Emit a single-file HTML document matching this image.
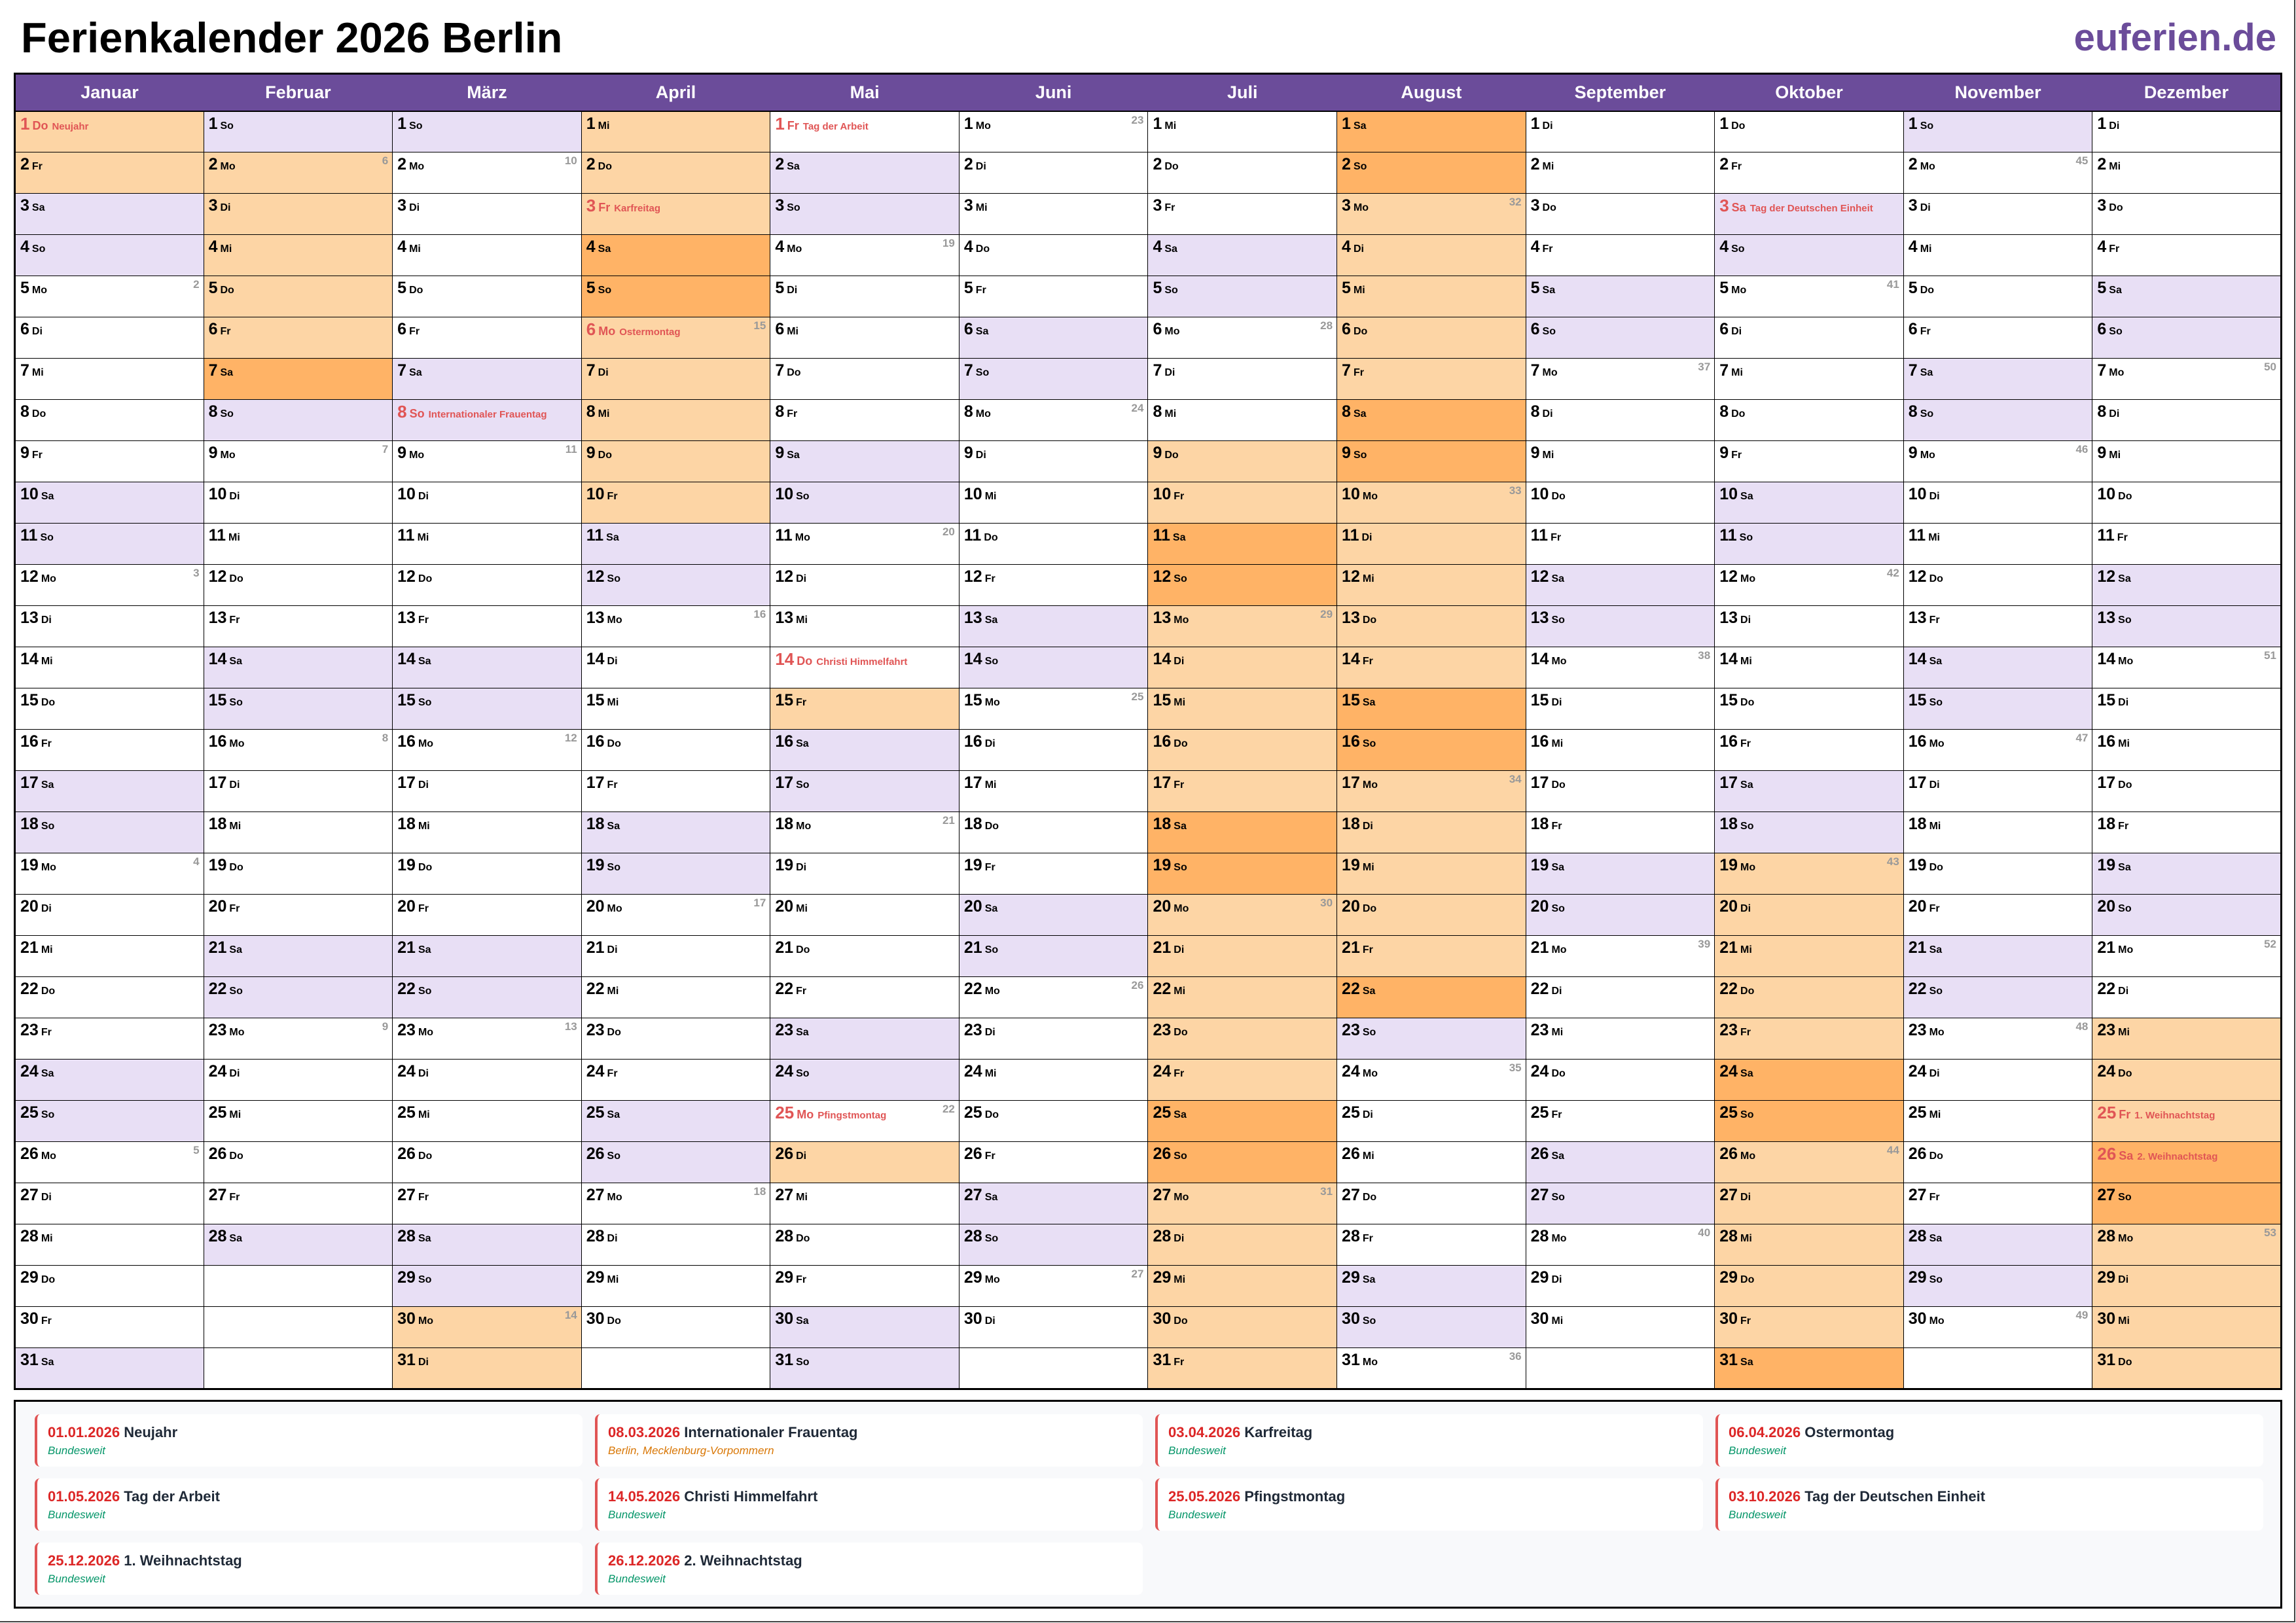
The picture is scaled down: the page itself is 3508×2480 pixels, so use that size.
<!DOCTYPE html>
<html><head><meta charset="utf-8">
<style>
*{margin:0;padding:0;box-sizing:border-box}
html,body{width:3508px;height:2480px;background:#fff;font-family:"Liberation Sans",Arial,sans-serif;overflow:hidden;position:relative}
.frame{position:absolute;left:0;top:0;width:3507px;height:2479px;border-right:2px solid #444;border-bottom:2px solid #444}
.title{position:absolute;left:32px;top:25px;font-size:65px;line-height:1;font-weight:bold;color:#000}
.logo{position:absolute;right:30px;top:29px;font-size:58px;line-height:1;font-weight:bold;color:#6b4c9a}
table{position:absolute;left:21px;top:111px;width:3466px;border-collapse:collapse;table-layout:fixed;border:3px solid #000}
th{height:57px;background:#6b4c9a;color:#fff;font-size:27px;font-weight:bold;border:none;border-bottom:2px solid #000;text-align:center;vertical-align:middle}
tr.r{height:63px}
td{border:1px solid #000;vertical-align:top;padding:4px 0 0 7px;line-height:28px;position:relative;white-space:nowrap;overflow:hidden;background:#fff}
td b{font-size:25px;color:#000}
td i{font-style:normal;font-weight:bold;font-size:16px;margin-left:4px;color:#000}
td u{position:absolute;top:2px;right:6px;color:#999;font-weight:bold;font-size:17px;text-decoration:none;line-height:22px}
td s{text-decoration:none;color:#e05555;font-weight:bold;font-size:15px;margin-left:6px}
td.h b{color:#e05555;font-size:26px}
td.h i{color:#e05555;font-size:18px}
.w{background:#e8dff5}
.o{background:#fdd5a5}
.d{background:#ffb366}
.leg{position:absolute;left:21px;top:2139px;width:3466px;height:319px;border:3px solid #000;background:#f8f9fb}
.c{position:absolute;width:837px;height:80px;background:#fff;border-left:4px solid #e05555;border-radius:8px;padding:15px 0 0 16px}
.c .l1{font-size:22px;line-height:26px;font-weight:bold;color:#1f2937}
.c .l1 em{font-style:normal;color:#dc2626}
.c .l2{font-size:17px;line-height:26px;font-style:italic;color:#059669;margin-top:2px}
.c .l2.or{color:#d97706}
</style></head><body>
<div class="frame"></div>
<div class="title">Ferienkalender 2026 Berlin</div>
<div class="logo">euferien.de</div>
<table>
<tr><th>Januar</th><th>Februar</th><th>März</th><th>April</th><th>Mai</th><th>Juni</th><th>Juli</th><th>August</th><th>September</th><th>Oktober</th><th>November</th><th>Dezember</th></tr>
<tr class="r"><td class="o h"><b>1</b><i>Do</i><s>Neujahr</s></td><td class="w"><b>1</b><i>So</i></td><td class="w"><b>1</b><i>So</i></td><td class="o"><b>1</b><i>Mi</i></td><td class="h"><b>1</b><i>Fr</i><s>Tag der Arbeit</s></td><td><b>1</b><i>Mo</i><u>23</u></td><td><b>1</b><i>Mi</i></td><td class="d"><b>1</b><i>Sa</i></td><td><b>1</b><i>Di</i></td><td><b>1</b><i>Do</i></td><td class="w"><b>1</b><i>So</i></td><td><b>1</b><i>Di</i></td></tr>
<tr class="r"><td class="o"><b>2</b><i>Fr</i></td><td class="o"><b>2</b><i>Mo</i><u>6</u></td><td><b>2</b><i>Mo</i><u>10</u></td><td class="o"><b>2</b><i>Do</i></td><td class="w"><b>2</b><i>Sa</i></td><td><b>2</b><i>Di</i></td><td><b>2</b><i>Do</i></td><td class="d"><b>2</b><i>So</i></td><td><b>2</b><i>Mi</i></td><td><b>2</b><i>Fr</i></td><td><b>2</b><i>Mo</i><u>45</u></td><td><b>2</b><i>Mi</i></td></tr>
<tr class="r"><td class="w"><b>3</b><i>Sa</i></td><td class="o"><b>3</b><i>Di</i></td><td><b>3</b><i>Di</i></td><td class="o h"><b>3</b><i>Fr</i><s>Karfreitag</s></td><td class="w"><b>3</b><i>So</i></td><td><b>3</b><i>Mi</i></td><td><b>3</b><i>Fr</i></td><td class="o"><b>3</b><i>Mo</i><u>32</u></td><td><b>3</b><i>Do</i></td><td class="w h"><b>3</b><i>Sa</i><s>Tag der Deutschen Einheit</s></td><td><b>3</b><i>Di</i></td><td><b>3</b><i>Do</i></td></tr>
<tr class="r"><td class="w"><b>4</b><i>So</i></td><td class="o"><b>4</b><i>Mi</i></td><td><b>4</b><i>Mi</i></td><td class="d"><b>4</b><i>Sa</i></td><td><b>4</b><i>Mo</i><u>19</u></td><td><b>4</b><i>Do</i></td><td class="w"><b>4</b><i>Sa</i></td><td class="o"><b>4</b><i>Di</i></td><td><b>4</b><i>Fr</i></td><td class="w"><b>4</b><i>So</i></td><td><b>4</b><i>Mi</i></td><td><b>4</b><i>Fr</i></td></tr>
<tr class="r"><td><b>5</b><i>Mo</i><u>2</u></td><td class="o"><b>5</b><i>Do</i></td><td><b>5</b><i>Do</i></td><td class="d"><b>5</b><i>So</i></td><td><b>5</b><i>Di</i></td><td><b>5</b><i>Fr</i></td><td class="w"><b>5</b><i>So</i></td><td class="o"><b>5</b><i>Mi</i></td><td class="w"><b>5</b><i>Sa</i></td><td><b>5</b><i>Mo</i><u>41</u></td><td><b>5</b><i>Do</i></td><td class="w"><b>5</b><i>Sa</i></td></tr>
<tr class="r"><td><b>6</b><i>Di</i></td><td class="o"><b>6</b><i>Fr</i></td><td><b>6</b><i>Fr</i></td><td class="o h"><b>6</b><i>Mo</i><s>Ostermontag</s><u>15</u></td><td><b>6</b><i>Mi</i></td><td class="w"><b>6</b><i>Sa</i></td><td><b>6</b><i>Mo</i><u>28</u></td><td class="o"><b>6</b><i>Do</i></td><td class="w"><b>6</b><i>So</i></td><td><b>6</b><i>Di</i></td><td><b>6</b><i>Fr</i></td><td class="w"><b>6</b><i>So</i></td></tr>
<tr class="r"><td><b>7</b><i>Mi</i></td><td class="d"><b>7</b><i>Sa</i></td><td class="w"><b>7</b><i>Sa</i></td><td class="o"><b>7</b><i>Di</i></td><td><b>7</b><i>Do</i></td><td class="w"><b>7</b><i>So</i></td><td><b>7</b><i>Di</i></td><td class="o"><b>7</b><i>Fr</i></td><td><b>7</b><i>Mo</i><u>37</u></td><td><b>7</b><i>Mi</i></td><td class="w"><b>7</b><i>Sa</i></td><td><b>7</b><i>Mo</i><u>50</u></td></tr>
<tr class="r"><td><b>8</b><i>Do</i></td><td class="w"><b>8</b><i>So</i></td><td class="w h"><b>8</b><i>So</i><s>Internationaler Frauentag</s></td><td class="o"><b>8</b><i>Mi</i></td><td><b>8</b><i>Fr</i></td><td><b>8</b><i>Mo</i><u>24</u></td><td><b>8</b><i>Mi</i></td><td class="d"><b>8</b><i>Sa</i></td><td><b>8</b><i>Di</i></td><td><b>8</b><i>Do</i></td><td class="w"><b>8</b><i>So</i></td><td><b>8</b><i>Di</i></td></tr>
<tr class="r"><td><b>9</b><i>Fr</i></td><td><b>9</b><i>Mo</i><u>7</u></td><td><b>9</b><i>Mo</i><u>11</u></td><td class="o"><b>9</b><i>Do</i></td><td class="w"><b>9</b><i>Sa</i></td><td><b>9</b><i>Di</i></td><td class="o"><b>9</b><i>Do</i></td><td class="d"><b>9</b><i>So</i></td><td><b>9</b><i>Mi</i></td><td><b>9</b><i>Fr</i></td><td><b>9</b><i>Mo</i><u>46</u></td><td><b>9</b><i>Mi</i></td></tr>
<tr class="r"><td class="w"><b>10</b><i>Sa</i></td><td><b>10</b><i>Di</i></td><td><b>10</b><i>Di</i></td><td class="o"><b>10</b><i>Fr</i></td><td class="w"><b>10</b><i>So</i></td><td><b>10</b><i>Mi</i></td><td class="o"><b>10</b><i>Fr</i></td><td class="o"><b>10</b><i>Mo</i><u>33</u></td><td><b>10</b><i>Do</i></td><td class="w"><b>10</b><i>Sa</i></td><td><b>10</b><i>Di</i></td><td><b>10</b><i>Do</i></td></tr>
<tr class="r"><td class="w"><b>11</b><i>So</i></td><td><b>11</b><i>Mi</i></td><td><b>11</b><i>Mi</i></td><td class="w"><b>11</b><i>Sa</i></td><td><b>11</b><i>Mo</i><u>20</u></td><td><b>11</b><i>Do</i></td><td class="d"><b>11</b><i>Sa</i></td><td class="o"><b>11</b><i>Di</i></td><td><b>11</b><i>Fr</i></td><td class="w"><b>11</b><i>So</i></td><td><b>11</b><i>Mi</i></td><td><b>11</b><i>Fr</i></td></tr>
<tr class="r"><td><b>12</b><i>Mo</i><u>3</u></td><td><b>12</b><i>Do</i></td><td><b>12</b><i>Do</i></td><td class="w"><b>12</b><i>So</i></td><td><b>12</b><i>Di</i></td><td><b>12</b><i>Fr</i></td><td class="d"><b>12</b><i>So</i></td><td class="o"><b>12</b><i>Mi</i></td><td class="w"><b>12</b><i>Sa</i></td><td><b>12</b><i>Mo</i><u>42</u></td><td><b>12</b><i>Do</i></td><td class="w"><b>12</b><i>Sa</i></td></tr>
<tr class="r"><td><b>13</b><i>Di</i></td><td><b>13</b><i>Fr</i></td><td><b>13</b><i>Fr</i></td><td><b>13</b><i>Mo</i><u>16</u></td><td><b>13</b><i>Mi</i></td><td class="w"><b>13</b><i>Sa</i></td><td class="o"><b>13</b><i>Mo</i><u>29</u></td><td class="o"><b>13</b><i>Do</i></td><td class="w"><b>13</b><i>So</i></td><td><b>13</b><i>Di</i></td><td><b>13</b><i>Fr</i></td><td class="w"><b>13</b><i>So</i></td></tr>
<tr class="r"><td><b>14</b><i>Mi</i></td><td class="w"><b>14</b><i>Sa</i></td><td class="w"><b>14</b><i>Sa</i></td><td><b>14</b><i>Di</i></td><td class="h"><b>14</b><i>Do</i><s>Christi Himmelfahrt</s></td><td class="w"><b>14</b><i>So</i></td><td class="o"><b>14</b><i>Di</i></td><td class="o"><b>14</b><i>Fr</i></td><td><b>14</b><i>Mo</i><u>38</u></td><td><b>14</b><i>Mi</i></td><td class="w"><b>14</b><i>Sa</i></td><td><b>14</b><i>Mo</i><u>51</u></td></tr>
<tr class="r"><td><b>15</b><i>Do</i></td><td class="w"><b>15</b><i>So</i></td><td class="w"><b>15</b><i>So</i></td><td><b>15</b><i>Mi</i></td><td class="o"><b>15</b><i>Fr</i></td><td><b>15</b><i>Mo</i><u>25</u></td><td class="o"><b>15</b><i>Mi</i></td><td class="d"><b>15</b><i>Sa</i></td><td><b>15</b><i>Di</i></td><td><b>15</b><i>Do</i></td><td class="w"><b>15</b><i>So</i></td><td><b>15</b><i>Di</i></td></tr>
<tr class="r"><td><b>16</b><i>Fr</i></td><td><b>16</b><i>Mo</i><u>8</u></td><td><b>16</b><i>Mo</i><u>12</u></td><td><b>16</b><i>Do</i></td><td class="w"><b>16</b><i>Sa</i></td><td><b>16</b><i>Di</i></td><td class="o"><b>16</b><i>Do</i></td><td class="d"><b>16</b><i>So</i></td><td><b>16</b><i>Mi</i></td><td><b>16</b><i>Fr</i></td><td><b>16</b><i>Mo</i><u>47</u></td><td><b>16</b><i>Mi</i></td></tr>
<tr class="r"><td class="w"><b>17</b><i>Sa</i></td><td><b>17</b><i>Di</i></td><td><b>17</b><i>Di</i></td><td><b>17</b><i>Fr</i></td><td class="w"><b>17</b><i>So</i></td><td><b>17</b><i>Mi</i></td><td class="o"><b>17</b><i>Fr</i></td><td class="o"><b>17</b><i>Mo</i><u>34</u></td><td><b>17</b><i>Do</i></td><td class="w"><b>17</b><i>Sa</i></td><td><b>17</b><i>Di</i></td><td><b>17</b><i>Do</i></td></tr>
<tr class="r"><td class="w"><b>18</b><i>So</i></td><td><b>18</b><i>Mi</i></td><td><b>18</b><i>Mi</i></td><td class="w"><b>18</b><i>Sa</i></td><td><b>18</b><i>Mo</i><u>21</u></td><td><b>18</b><i>Do</i></td><td class="d"><b>18</b><i>Sa</i></td><td class="o"><b>18</b><i>Di</i></td><td><b>18</b><i>Fr</i></td><td class="w"><b>18</b><i>So</i></td><td><b>18</b><i>Mi</i></td><td><b>18</b><i>Fr</i></td></tr>
<tr class="r"><td><b>19</b><i>Mo</i><u>4</u></td><td><b>19</b><i>Do</i></td><td><b>19</b><i>Do</i></td><td class="w"><b>19</b><i>So</i></td><td><b>19</b><i>Di</i></td><td><b>19</b><i>Fr</i></td><td class="d"><b>19</b><i>So</i></td><td class="o"><b>19</b><i>Mi</i></td><td class="w"><b>19</b><i>Sa</i></td><td class="o"><b>19</b><i>Mo</i><u>43</u></td><td><b>19</b><i>Do</i></td><td class="w"><b>19</b><i>Sa</i></td></tr>
<tr class="r"><td><b>20</b><i>Di</i></td><td><b>20</b><i>Fr</i></td><td><b>20</b><i>Fr</i></td><td><b>20</b><i>Mo</i><u>17</u></td><td><b>20</b><i>Mi</i></td><td class="w"><b>20</b><i>Sa</i></td><td class="o"><b>20</b><i>Mo</i><u>30</u></td><td class="o"><b>20</b><i>Do</i></td><td class="w"><b>20</b><i>So</i></td><td class="o"><b>20</b><i>Di</i></td><td><b>20</b><i>Fr</i></td><td class="w"><b>20</b><i>So</i></td></tr>
<tr class="r"><td><b>21</b><i>Mi</i></td><td class="w"><b>21</b><i>Sa</i></td><td class="w"><b>21</b><i>Sa</i></td><td><b>21</b><i>Di</i></td><td><b>21</b><i>Do</i></td><td class="w"><b>21</b><i>So</i></td><td class="o"><b>21</b><i>Di</i></td><td class="o"><b>21</b><i>Fr</i></td><td><b>21</b><i>Mo</i><u>39</u></td><td class="o"><b>21</b><i>Mi</i></td><td class="w"><b>21</b><i>Sa</i></td><td><b>21</b><i>Mo</i><u>52</u></td></tr>
<tr class="r"><td><b>22</b><i>Do</i></td><td class="w"><b>22</b><i>So</i></td><td class="w"><b>22</b><i>So</i></td><td><b>22</b><i>Mi</i></td><td><b>22</b><i>Fr</i></td><td><b>22</b><i>Mo</i><u>26</u></td><td class="o"><b>22</b><i>Mi</i></td><td class="d"><b>22</b><i>Sa</i></td><td><b>22</b><i>Di</i></td><td class="o"><b>22</b><i>Do</i></td><td class="w"><b>22</b><i>So</i></td><td><b>22</b><i>Di</i></td></tr>
<tr class="r"><td><b>23</b><i>Fr</i></td><td><b>23</b><i>Mo</i><u>9</u></td><td><b>23</b><i>Mo</i><u>13</u></td><td><b>23</b><i>Do</i></td><td class="w"><b>23</b><i>Sa</i></td><td><b>23</b><i>Di</i></td><td class="o"><b>23</b><i>Do</i></td><td class="w"><b>23</b><i>So</i></td><td><b>23</b><i>Mi</i></td><td class="o"><b>23</b><i>Fr</i></td><td><b>23</b><i>Mo</i><u>48</u></td><td class="o"><b>23</b><i>Mi</i></td></tr>
<tr class="r"><td class="w"><b>24</b><i>Sa</i></td><td><b>24</b><i>Di</i></td><td><b>24</b><i>Di</i></td><td><b>24</b><i>Fr</i></td><td class="w"><b>24</b><i>So</i></td><td><b>24</b><i>Mi</i></td><td class="o"><b>24</b><i>Fr</i></td><td><b>24</b><i>Mo</i><u>35</u></td><td><b>24</b><i>Do</i></td><td class="d"><b>24</b><i>Sa</i></td><td><b>24</b><i>Di</i></td><td class="o"><b>24</b><i>Do</i></td></tr>
<tr class="r"><td class="w"><b>25</b><i>So</i></td><td><b>25</b><i>Mi</i></td><td><b>25</b><i>Mi</i></td><td class="w"><b>25</b><i>Sa</i></td><td class="h"><b>25</b><i>Mo</i><s>Pfingstmontag</s><u>22</u></td><td><b>25</b><i>Do</i></td><td class="d"><b>25</b><i>Sa</i></td><td><b>25</b><i>Di</i></td><td><b>25</b><i>Fr</i></td><td class="d"><b>25</b><i>So</i></td><td><b>25</b><i>Mi</i></td><td class="o h"><b>25</b><i>Fr</i><s>1. Weihnachtstag</s></td></tr>
<tr class="r"><td><b>26</b><i>Mo</i><u>5</u></td><td><b>26</b><i>Do</i></td><td><b>26</b><i>Do</i></td><td class="w"><b>26</b><i>So</i></td><td class="o"><b>26</b><i>Di</i></td><td><b>26</b><i>Fr</i></td><td class="d"><b>26</b><i>So</i></td><td><b>26</b><i>Mi</i></td><td class="w"><b>26</b><i>Sa</i></td><td class="o"><b>26</b><i>Mo</i><u>44</u></td><td><b>26</b><i>Do</i></td><td class="d h"><b>26</b><i>Sa</i><s>2. Weihnachtstag</s></td></tr>
<tr class="r"><td><b>27</b><i>Di</i></td><td><b>27</b><i>Fr</i></td><td><b>27</b><i>Fr</i></td><td><b>27</b><i>Mo</i><u>18</u></td><td><b>27</b><i>Mi</i></td><td class="w"><b>27</b><i>Sa</i></td><td class="o"><b>27</b><i>Mo</i><u>31</u></td><td><b>27</b><i>Do</i></td><td class="w"><b>27</b><i>So</i></td><td class="o"><b>27</b><i>Di</i></td><td><b>27</b><i>Fr</i></td><td class="d"><b>27</b><i>So</i></td></tr>
<tr class="r"><td><b>28</b><i>Mi</i></td><td class="w"><b>28</b><i>Sa</i></td><td class="w"><b>28</b><i>Sa</i></td><td><b>28</b><i>Di</i></td><td><b>28</b><i>Do</i></td><td class="w"><b>28</b><i>So</i></td><td class="o"><b>28</b><i>Di</i></td><td><b>28</b><i>Fr</i></td><td><b>28</b><i>Mo</i><u>40</u></td><td class="o"><b>28</b><i>Mi</i></td><td class="w"><b>28</b><i>Sa</i></td><td class="o"><b>28</b><i>Mo</i><u>53</u></td></tr>
<tr class="r"><td><b>29</b><i>Do</i></td><td></td><td class="w"><b>29</b><i>So</i></td><td><b>29</b><i>Mi</i></td><td><b>29</b><i>Fr</i></td><td><b>29</b><i>Mo</i><u>27</u></td><td class="o"><b>29</b><i>Mi</i></td><td class="w"><b>29</b><i>Sa</i></td><td><b>29</b><i>Di</i></td><td class="o"><b>29</b><i>Do</i></td><td class="w"><b>29</b><i>So</i></td><td class="o"><b>29</b><i>Di</i></td></tr>
<tr class="r"><td><b>30</b><i>Fr</i></td><td></td><td class="o"><b>30</b><i>Mo</i><u>14</u></td><td><b>30</b><i>Do</i></td><td class="w"><b>30</b><i>Sa</i></td><td><b>30</b><i>Di</i></td><td class="o"><b>30</b><i>Do</i></td><td class="w"><b>30</b><i>So</i></td><td><b>30</b><i>Mi</i></td><td class="o"><b>30</b><i>Fr</i></td><td><b>30</b><i>Mo</i><u>49</u></td><td class="o"><b>30</b><i>Mi</i></td></tr>
<tr class="r"><td class="w"><b>31</b><i>Sa</i></td><td></td><td class="o"><b>31</b><i>Di</i></td><td></td><td class="w"><b>31</b><i>So</i></td><td></td><td class="o"><b>31</b><i>Fr</i></td><td><b>31</b><i>Mo</i><u>36</u></td><td></td><td class="d"><b>31</b><i>Sa</i></td><td></td><td class="o"><b>31</b><i>Do</i></td></tr>
</table>
<div class="leg"></div>
<div class="c" style="left:53px;top:2161px"><div class="l1"><em>01.01.2026</em> Neujahr</div><div class="l2">Bundesweit</div></div>
<div class="c" style="left:909px;top:2161px"><div class="l1"><em>08.03.2026</em> Internationaler Frauentag</div><div class="l2 or">Berlin, Mecklenburg-Vorpommern</div></div>
<div class="c" style="left:1765px;top:2161px"><div class="l1"><em>03.04.2026</em> Karfreitag</div><div class="l2">Bundesweit</div></div>
<div class="c" style="left:2621px;top:2161px"><div class="l1"><em>06.04.2026</em> Ostermontag</div><div class="l2">Bundesweit</div></div>
<div class="c" style="left:53px;top:2259px"><div class="l1"><em>01.05.2026</em> Tag der Arbeit</div><div class="l2">Bundesweit</div></div>
<div class="c" style="left:909px;top:2259px"><div class="l1"><em>14.05.2026</em> Christi Himmelfahrt</div><div class="l2">Bundesweit</div></div>
<div class="c" style="left:1765px;top:2259px"><div class="l1"><em>25.05.2026</em> Pfingstmontag</div><div class="l2">Bundesweit</div></div>
<div class="c" style="left:2621px;top:2259px"><div class="l1"><em>03.10.2026</em> Tag der Deutschen Einheit</div><div class="l2">Bundesweit</div></div>
<div class="c" style="left:53px;top:2357px"><div class="l1"><em>25.12.2026</em> 1. Weihnachtstag</div><div class="l2">Bundesweit</div></div>
<div class="c" style="left:909px;top:2357px"><div class="l1"><em>26.12.2026</em> 2. Weihnachtstag</div><div class="l2">Bundesweit</div></div>
</body></html>
